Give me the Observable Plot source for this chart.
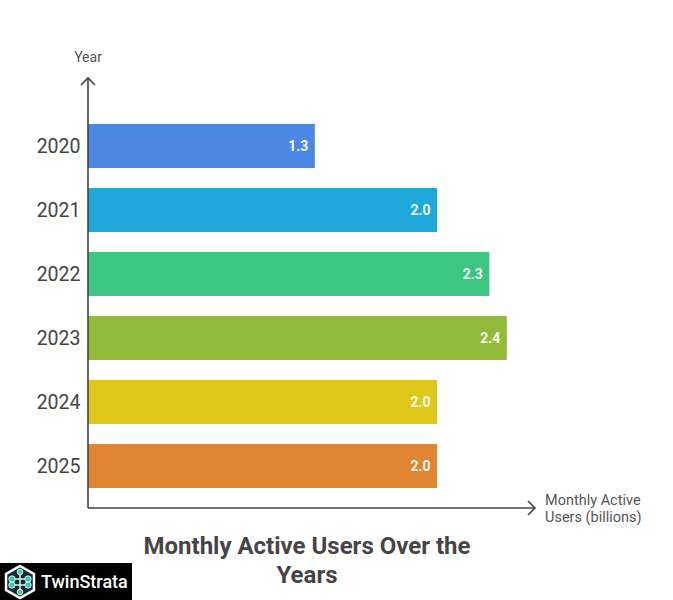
<!DOCTYPE html>
<html>
<head>
<meta charset="utf-8">
<script src="https://cdn.jsdelivr.net/npm/d3@7"></script>
<script src="https://cdn.jsdelivr.net/npm/@observablehq/plot@0.6"></script>
<style>
  html, body { margin: 0; padding: 0; background: #fff; }
  body { width: 673px; height: 600px; position: relative; overflow: hidden; font-family: Roboto, "Noto Sans", sans-serif; }
  #chart { position: absolute; left: 0; top: 0; }
  #title { position: absolute; left: 87px; width: 440px; top: 532px; text-align: center; font-weight: 700; font-size: 24px; line-height: 29px; color: #454545; }
  #logo { position: absolute; left: 0; top: 563px; width: 132px; height: 37px; background: #000; display: flex; align-items: center; }
  #logo span { color: #fff; font-size: 18px; font-weight: 500; margin-left: 3px; }
</style>
</head>
<body>
<div id="chart"></div>
<div id="title">Monthly Active Users Over the<br>Years</div>
<div id="logo">
  <svg width="36" height="36" viewBox="0 0 36 36" style="margin-left:2px">
    <polygon points="18,2 32,10 32,26 18,34 4,26 4,10" fill="#1a2a33" stroke="#fff" stroke-width="2.5"/>
    <g stroke="#d8f4f0" stroke-width="1.5">
      <line x1="18" y1="8" x2="18" y2="28"/>
      <line x1="10" y1="15" x2="26" y2="15"/>
      <line x1="10" y1="21" x2="26" y2="21"/>
    </g>
    <g fill="#3cc8b4" stroke="#fff" stroke-width="0.8">
      <circle cx="18" cy="8" r="2.8"/>
      <circle cx="10" cy="15" r="3.2"/>
      <circle cx="26" cy="15" r="3.2"/>
      <circle cx="10" cy="21" r="3.2"/>
      <circle cx="26" cy="21" r="3.2"/>
      <circle cx="18" cy="28" r="2.8"/>
    </g>
  </svg>
  <span>TwinStrata</span>
</div>
<script>
const years = ["2020", "2021", "2022", "2023", "2024", "2025"];
const users = [1.3, 2.0, 2.3, 2.4, 2.0, 2.0];
const colors = ["#4C87E3", "#1FA9DA", "#3DC583", "#93BA3A", "#E0C81A", "#E08632"];
const xLabel = ["Monthly Active", "Users (billions)"];
const yLabel = "Year";

const data = years.map((y, i) => ({year: y, value: users[i], color: colors[i]}));

const plot = Plot.plot({
  width: 673,
  height: 525,
  marginLeft: 88,
  marginRight: 138,
  marginTop: 104,
  marginBottom: 17,
  style: {fontFamily: "Roboto, sans-serif", background: "transparent"},
  x: {domain: [0, 2.5616], axis: null},
  y: {domain: years, padding: 0.3125, axis: null},
  marks: [
    Plot.barX(data, {x: "value", y: "year", fill: "color"}),
    Plot.text(data, {x: "value", y: "year", text: d => d.value.toFixed(1), textAnchor: "end", dx: -7, fill: "#fff", fontWeight: 600, fontSize: 14}),
    Plot.text(data, {x: 0, y: "year", text: "year", textAnchor: "end", dx: -8, fill: "#444", fontSize: 19.5})
  ]
});

const xs = plot.scale("x"), ys = plot.scale("y");
const x0 = xs.apply(0);
const xEnd = xs.range[1];
const yBottom = ys.range[1];
const svg = d3.select(plot);
const axisColor = "#444";
// y axis line with arrow
svg.append("path").attr("d", `M${x0},${yBottom}V78`).attr("stroke", axisColor).attr("stroke-width", 1.6).attr("fill", "none");
svg.append("path").attr("d", `M${x0-7},${85}L${x0},78L${x0+7},85`).attr("stroke", axisColor).attr("stroke-width", 1.6).attr("fill", "none");
// x axis line with arrow
svg.append("path").attr("d", `M${x0},${yBottom}H${xEnd}`).attr("stroke", axisColor).attr("stroke-width", 1.6).attr("fill", "none");
svg.append("path").attr("d", `M${xEnd-7},${yBottom-7}L${xEnd},${yBottom}L${xEnd-7},${yBottom+7}`).attr("stroke", axisColor).attr("stroke-width", 1.6).attr("fill", "none");
// axis labels
svg.append("text").attr("x", x0).attr("y", 62).attr("text-anchor", "middle").attr("font-size", 14).attr("fill", "#555").text(yLabel);
xLabel.forEach((t, i) => {
  svg.append("text").attr("x", xEnd + 10).attr("y", yBottom - 3 + i * 17).attr("text-anchor", "start").attr("font-size", 14.5).attr("fill", "#555").text(t);
});

document.getElementById("chart").appendChild(plot);
</script>
</body>
</html>
